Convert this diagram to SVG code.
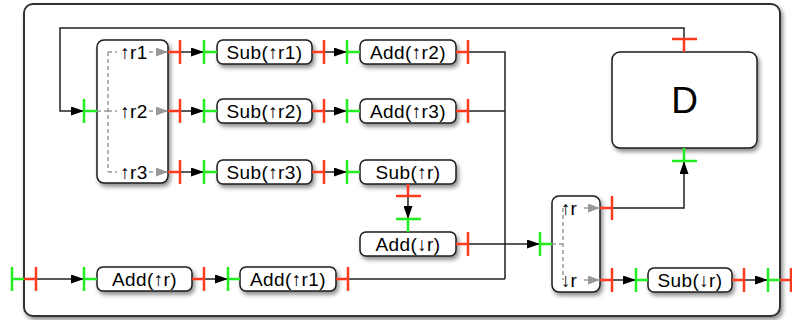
<svg xmlns="http://www.w3.org/2000/svg" width="792" height="320" viewBox="0 0 792 320">
<defs>
<filter id="sh" x="-20%" y="-30%" width="150%" height="180%">
<feDropShadow dx="2" dy="3" stdDeviation="2" flood-color="#000" flood-opacity="0.45"/>
</filter>
<marker id="ab" viewBox="0 0 13 9" refX="13" refY="4.5" markerWidth="13" markerHeight="9" markerUnits="userSpaceOnUse" orient="auto">
<path d="M0,0 L13,4.5 L0,9 Z" fill="#000"/>
</marker>
<marker id="ag" viewBox="0 0 12 9" refX="12" refY="4.5" markerWidth="12" markerHeight="9" markerUnits="userSpaceOnUse" orient="auto">
<path d="M0,0 L12,4.5 L0,9 Z" fill="#999"/>
</marker>
</defs>
<style>
.frame{fill:#fff;stroke:#333;stroke-width:2}
.box{fill:#fff;stroke:#1a1a1a;stroke-width:1.5}
.t{font-family:"Liberation Sans",Arial,sans-serif;font-size:19px;letter-spacing:0.4px;text-anchor:middle;fill:#000}
.ts{font-family:"Liberation Sans",Arial,sans-serif;font-size:19px;fill:#000}
.red{stroke:#ff3b1d;stroke-width:2.5;fill:none}
.grn{stroke:#22ee22;stroke-width:2.5;fill:none}
.w{stroke:#222;stroke-width:1.5;fill:none}
.d{stroke:#999;stroke-width:1.5;stroke-dasharray:4 3;fill:none}
</style>
<rect class="frame" x="24" y="4" width="756" height="312" rx="9" filter="url(#sh)"/>

<g id="connectors">
<path class="w" d="M684,39 V28 H60 V111 H84" marker-end="url(#ab)"/>
<line class="w" x1="180" y1="52" x2="204" y2="52" marker-end="url(#ab)"/>
<line class="w" x1="180" y1="111" x2="204" y2="111" marker-end="url(#ab)"/>
<line class="w" x1="180" y1="172" x2="204" y2="172" marker-end="url(#ab)"/>
<line class="w" x1="324" y1="52" x2="347" y2="52" marker-end="url(#ab)"/>
<line class="w" x1="324" y1="111" x2="347" y2="111" marker-end="url(#ab)"/>
<line class="w" x1="324" y1="172" x2="347" y2="172" marker-end="url(#ab)"/>
<path class="w" d="M468,52 H505 V279"/>
<path class="w" d="M468,111 H505"/>
<path class="w" d="M348,279 H505"/>
<line class="w" x1="408" y1="196" x2="408" y2="219" marker-end="url(#ab)"/>
<line class="w" x1="468" y1="244" x2="540" y2="244" marker-end="url(#ab)"/>
<path class="w" d="M612,208 H684 V161" marker-end="url(#ab)"/>
<line class="w" x1="36" y1="279" x2="84" y2="279" marker-end="url(#ab)"/>
<line class="w" x1="204" y1="279" x2="228" y2="279" marker-end="url(#ab)"/>
<line class="w" x1="612" y1="280" x2="636" y2="280" marker-end="url(#ab)"/>
<line class="w" x1="744" y1="280" x2="768" y2="280" marker-end="url(#ab)"/>
</g>

<g id="split1">
<rect class="box" x="97" y="40" width="71" height="143" rx="7" filter="url(#sh)"/>
<path class="d" d="M97,111 H108 M108,52 V172 M108,52 H117 M108,111 H117 M108,172 H117"/>
<line class="d" x1="149" y1="52" x2="168" y2="52" marker-end="url(#ag)"/>
<line class="d" x1="149" y1="111" x2="168" y2="111" marker-end="url(#ag)"/>
<line class="d" x1="149" y1="172" x2="168" y2="172" marker-end="url(#ag)"/>
<text class="t" x="134" y="58.5">↑r1</text>
<text class="t" x="134" y="117.5">↑r2</text>
<text class="t" x="134" y="178.5">↑r3</text>
<path class="grn" d="M84,99 V123 M84,111 H97"/>
<path class="red" d="M168,52 H180 M180,40 V64 M168,111 H180 M180,99 V123 M168,172 H180 M180,160 V184"/>
</g>

<g id="sub_r1">
<rect class="box" x="217" y="40" width="95" height="24" rx="6" filter="url(#sh)"/>
<text class="t" x="264.5" y="58.5">Sub(↑r1)</text>
<path class="grn" d="M204,40 V64 M204,52 H217"/>
<path class="red" d="M312,52 H324 M324,40 V64"/>
</g>
<g id="sub_r2">
<rect class="box" x="217" y="99" width="95" height="24" rx="6" filter="url(#sh)"/>
<text class="t" x="264.5" y="117.5">Sub(↑r2)</text>
<path class="grn" d="M204,99 V123 M204,111 H217"/>
<path class="red" d="M312,111 H324 M324,99 V123"/>
</g>
<g id="sub_r3">
<rect class="box" x="217" y="160" width="95" height="24" rx="6" filter="url(#sh)"/>
<text class="t" x="264.5" y="178.5">Sub(↑r3)</text>
<path class="grn" d="M204,160 V184 M204,172 H217"/>
<path class="red" d="M312,172 H324 M324,160 V184"/>
</g>

<g id="add_r2">
<rect class="box" x="360" y="40" width="96" height="24" rx="6" filter="url(#sh)"/>
<text class="t" x="408" y="58.5">Add(↑r2)</text>
<path class="grn" d="M347,40 V64 M347,52 H360"/>
<path class="red" d="M456,52 H468 M468,40 V64"/>
</g>
<g id="add_r3">
<rect class="box" x="360" y="99" width="96" height="24" rx="6" filter="url(#sh)"/>
<text class="t" x="408" y="117.5">Add(↑r3)</text>
<path class="grn" d="M347,99 V123 M347,111 H360"/>
<path class="red" d="M456,111 H468 M468,99 V123"/>
</g>
<g id="sub_r">
<rect class="box" x="360" y="160" width="96" height="24" rx="6" filter="url(#sh)"/>
<text class="t" x="408" y="178.5">Sub(↑r)</text>
<path class="grn" d="M347,160 V184 M347,172 H360"/>
<path class="red" d="M408,184 V196 M396,196 H421"/>
</g>
<g id="add_down_r">
<rect class="box" x="360" y="232" width="96" height="24" rx="6" filter="url(#sh)"/>
<text class="t" x="408" y="250.5">Add(↓r)</text>
<path class="grn" d="M396,219 H421 M408,219 V232"/>
<path class="red" d="M456,244 H468 M468,232 V256"/>
</g>

<g id="add_r">
<rect class="box" x="97" y="267" width="95" height="24" rx="6" filter="url(#sh)"/>
<text class="t" x="144.5" y="285.5">Add(↑r)</text>
<path class="grn" d="M84,267 V291 M84,279 H97"/>
<path class="red" d="M192,279 H204 M204,267 V291"/>
</g>
<g id="add_r1">
<rect class="box" x="240" y="267" width="96" height="24" rx="6" filter="url(#sh)"/>
<text class="t" x="288" y="285.5">Add(↑r1)</text>
<path class="grn" d="M228,267 V291 M228,279 H240"/>
<path class="red" d="M336,279 H348 M348,267 V291"/>
</g>
<g id="input">
<path class="grn" d="M12,267 V291 M12,279 H24"/>
<path class="red" d="M24,279 H36 M36,267 V291"/>
</g>

<g id="split2">
<rect class="box" x="552" y="196" width="48" height="96" rx="7" filter="url(#sh)"/>
<path class="d" d="M552,244 H563 M563,208 V280"/>
<line class="d" x1="584" y1="208" x2="600" y2="208" marker-end="url(#ag)"/>
<line class="d" x1="584" y1="280" x2="600" y2="280" marker-end="url(#ag)"/>
<text class="ts" x="561" y="214.5">↑r</text>
<text class="ts" x="561" y="286.5">↓r</text>
<path class="grn" d="M540,232 V256 M540,244 H552"/>
<path class="red" d="M600,208 H612 M612,196 V220 M600,280 H612 M612,268 V292"/>
</g>

<g id="sub_down_r">
<rect class="box" x="648" y="268" width="84" height="24" rx="6" filter="url(#sh)"/>
<text class="t" x="690" y="286.5">Sub(↓r)</text>
<path class="grn" d="M636,268 V292 M636,280 H648"/>
<path class="red" d="M732,280 H744 M744,268 V292"/>
</g>
<g id="output">
<path class="grn" d="M768,268 V292 M768,280 H780"/>
<path class="red" d="M780,280 H791 M791,268 V292"/>
</g>

<g id="D">
<rect class="box" x="612" y="52" width="145" height="96" rx="8" filter="url(#sh)"/>
<text class="t" x="684.5" y="113" style="font-size:37px;letter-spacing:0">D</text>
<path class="red" d="M672,39 H697 M684,39 V52"/>
<path class="grn" d="M672,161 H697 M684,148 V161"/>
</g>
</svg>
